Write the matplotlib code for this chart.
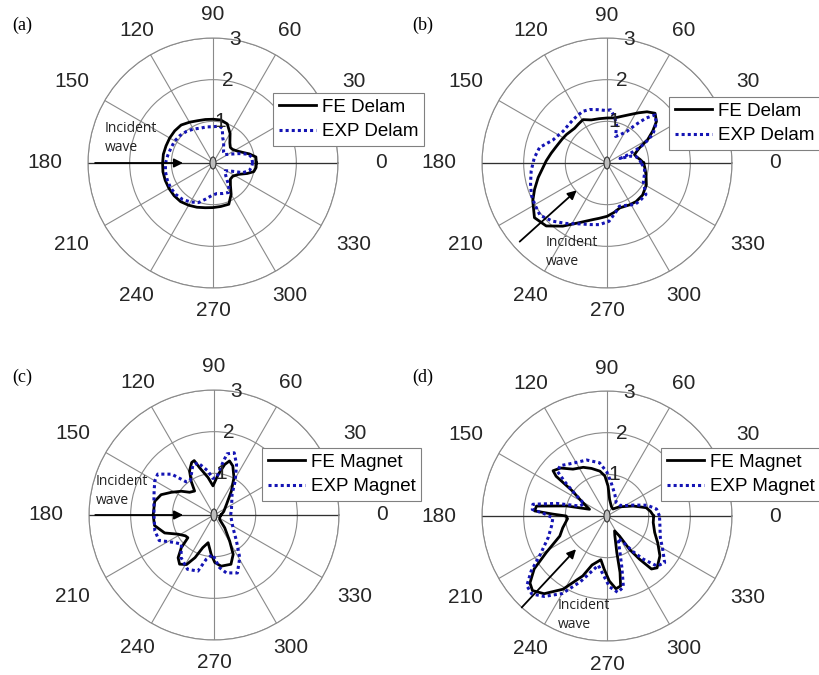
import numpy as np
import matplotlib
matplotlib.use('Agg')
import matplotlib.pyplot as plt
from matplotlib.patches import Ellipse

plt.rcParams['font.family'] = ['Liberation Sans', 'DejaVu Sans']

# ---- data (angle in deg, amplitude) ----
# (a) delamination, incident from 180
th_a_fe = [0, 8, 14, 20, 27, 35, 42, 50, 60, 70, 80, 90, 100, 110, 120, 130, 140, 150, 160,
           170, 180, 190, 200, 210, 220, 230, 240, 250, 260, 270, 280, 291, 300, 308, 317,
           326, 336, 343, 348, 354]
r_a_fe = [1.04, 1.04, 0.9, 0.75, 0.64, 0.57, 0.56, 0.63, 0.82, 1.0, 1.05, 1.05, 1.06, 1.08,
          1.13, 1.19, 1.2, 1.2, 1.2, 1.21, 1.21, 1.22, 1.22, 1.22, 1.22, 1.21, 1.17, 1.13,
          1.09, 1.07, 1.06, 1.06, 0.87, 0.68, 0.57, 0.57, 0.67, 0.86, 1.0, 1.04]
th_a_exp = [0, 8, 14, 20, 28, 36, 45, 55, 62, 69, 75, 80, 90, 100, 110, 120, 130, 140, 150,
            160, 170, 180, 190, 200, 210, 220, 230, 240, 250, 258, 268, 277, 288, 298, 305,
            312, 320, 328, 336, 342, 348, 354]
r_a_exp = [0.95, 0.94, 0.88, 0.66, 0.45, 0.34, 0.36, 0.44, 0.55, 0.65, 0.86, 0.9, 0.87, 0.88,
           0.89, 0.94, 0.99, 1.03, 1.06, 1.07, 1.1, 1.14, 1.16, 1.17, 1.18, 1.17, 1.14, 1.08,
           1.01, 0.89, 0.78, 0.74, 0.77, 0.8, 0.66, 0.48, 0.38, 0.35, 0.48, 0.75, 0.89, 0.93]

# (b) delamination, incident from 222
th_b_fe = [0, 6, 12, 17, 22, 25, 30, 35, 40, 46, 52, 58, 65, 72, 80, 90, 100, 110, 119, 126,
           133, 145, 152, 162, 170, 178, 192, 200, 207, 217, 226, 235, 245, 256, 262, 270,
           278, 286, 298, 307, 318, 331, 343, 352]
r_b_fe = [0.88, 0.8, 0.72, 0.69, 0.78, 0.86, 1.13, 1.34, 1.55, 1.66, 1.56, 1.42, 1.28, 1.18,
          1.1, 1.08, 1.08, 1.1, 1.19, 1.16, 1.14, 1.19, 1.22, 1.28, 1.36, 1.46, 1.69, 1.85,
          2.0, 2.18, 2.1, 1.85, 1.58, 1.4, 1.34, 1.28, 1.2, 1.12, 1.14, 1.16, 1.15, 1.08,
          0.98, 0.92]
th_b_exp = [0, 5, 12, 16, 19, 21, 24, 27, 32, 39, 45, 49, 53, 58, 65, 72, 76, 81, 86, 91, 100,
            108, 115, 122, 128, 136, 144, 152, 157, 167, 176, 186, 195, 203, 210, 218, 227,
            236, 246, 255, 263, 272, 280, 286, 295, 304, 312, 321, 333, 343, 352]
r_b_exp = [0.82, 0.79, 0.72, 0.6, 0.33, 0.5, 0.75, 1.0, 1.3, 1.52, 1.63, 1.43, 1.16, 0.89,
           0.75, 0.67, 0.95, 1.13, 1.28, 1.26, 1.3, 1.35, 1.37, 1.34, 1.32, 1.3, 1.3, 1.36,
           1.41, 1.66, 1.75, 1.83, 1.9, 1.97, 2.0, 2.04, 1.91, 1.75, 1.6, 1.53, 1.49, 1.4,
           1.2, 1.08, 1.12, 1.2, 1.2, 1.2, 0.98, 0.94, 0.91]

# (c) magnet, incident from 180
th_c_fe = [0, 20, 40, 54, 62, 69, 74, 78, 84, 92, 99, 107, 110, 113, 119, 124, 129, 137, 144,
           152, 159, 167, 180, 190, 200, 208, 216, 221, 225, 230, 235, 241, 246, 251, 258,
           266, 271, 278, 289, 296, 301, 310, 322, 340]
r_c_fe = [0.17, 0.25, 0.39, 0.71, 1.02, 1.26, 1.35, 1.24, 0.98, 0.7, 0.91, 1.19, 1.39, 1.37,
          1.21, 0.98, 0.74, 0.8, 0.97, 1.16, 1.36, 1.46, 1.46, 1.45, 1.26, 0.98, 0.85, 0.83,
          1.11, 1.34, 1.44, 1.36, 1.12, 0.83, 0.68, 0.95, 1.14, 1.24, 1.25, 1.05, 0.73,
          0.4, 0.17, 0.15]
th_c_exp = [0, 18, 35, 49, 58, 66, 72, 78, 81, 86, 92, 98, 107, 113, 119, 125, 130, 136, 144,
            150, 158, 167, 180, 195, 205, 215, 222, 232, 244, 254, 260, 268, 276, 282, 292,
            301, 311, 326, 346]
r_c_exp = [0.4, 0.44, 0.52, 0.66, 0.96, 1.33, 1.57, 1.5, 1.23, 0.9, 0.88, 1.07, 1.31, 1.3,
           1.12, 1.0, 1.04, 1.41, 1.67, 1.64, 1.55, 1.48, 1.44, 1.47, 1.45, 1.15, 1.05,
           1.29, 1.45, 1.4, 1.08, 0.95, 1.27, 1.42, 1.5, 1.2, 0.82, 0.55, 0.43]

# (d) magnet, incident from 227
th_d_fe = [0, 6, 12, 21, 30, 36, 50, 65, 81, 88, 93, 99, 108, 116, 126, 134, 140, 142, 144,
           150, 159, 166, 172, 176, 178, 180, 184, 195, 203, 211, 216, 221, 225, 231, 239,
           248, 253, 262, 267, 272, 277, 281, 283, 285, 292, 297, 302, 304, 307, 310, 314,
           323, 332, 341, 352]
r_d_fe = [1.12, 1.05, 0.96, 0.67, 0.45, 0.38, 0.22, 0.25, 0.4, 0.72, 0.96, 1.09, 1.2, 1.3,
          1.39, 1.6, 1.69, 1.55, 1.04, 0.7, 0.45, 1.0, 1.71, 1.74, 1.3, 0.98, 0.95, 1.1,
          1.23, 1.7, 2.16, 2.45, 2.53, 2.4, 2.05, 1.55, 1.23, 1.06, 1.28, 1.56, 1.76, 1.71,
          1.39, 0.91, 0.5, 0.4, 0.57, 0.97, 1.3, 1.66, 1.73, 1.59, 1.38, 1.21, 1.12]
th_d_exp = [0, 8, 15, 22, 30, 40, 55, 70, 83, 90, 98, 110, 122, 133, 138, 141, 146, 152, 160,
            166, 171, 175, 178, 182, 190, 200, 210, 216, 221, 226, 232, 240, 248, 254, 260,
            266, 272, 278, 283, 286, 290, 296, 302, 306, 310, 315, 321, 329, 338, 348]
r_d_exp = [1.26, 1.2, 1.0, 0.7, 0.5, 0.4, 0.39, 0.55, 0.81, 1.05, 1.29, 1.43, 1.5, 1.65, 1.6,
           1.3, 0.9, 0.62, 0.7, 1.25, 1.8, 1.8, 1.5, 1.3, 1.35, 1.5, 1.85, 2.25, 2.55, 2.6,
           2.45, 2.15, 1.7, 1.4, 1.2, 1.4, 1.7, 1.85, 1.75, 1.3, 0.9, 0.6, 0.75, 1.05, 1.35,
           1.7, 1.78, 1.56, 1.38, 1.3]

names_fe = ['FE Delam', 'FE Delam', 'FE Magnet', 'FE Magnet']
names_exp = ['EXP Delam', 'EXP Delam', 'EXP Magnet', 'EXP Magnet']
panel_tags = ['(a)', '(b)', '(c)', '(d)']
inc_angle = [180, 222, 180, 227]
inc_r = [(2.83, 0.72), (2.82, 0.98), (2.85, 0.74), (3.0, 1.09)]
theta_ticks = list(range(0, 360, 30))
r_ticks = [1, 2, 3]

series = [(th_a_fe, r_a_fe, th_a_exp, r_a_exp),
          (th_b_fe, r_b_fe, th_b_exp, r_b_exp),
          (th_c_fe, r_c_fe, th_c_exp, r_c_exp),
          (th_d_fe, r_d_fe, th_d_exp, r_d_exp)]

W, H = 820, 675
fig = plt.figure(figsize=(8.2, 6.75), dpi=100)

# layout in pixels (centre x, centre y) of each polar plot, radius 125 px
centres = [(213, 163), (607, 163), (214, 515), (607, 516)]
leg_pos = [(273, 93), (669, 97), (262, 448), (661, 448)]
tag_pos = [(12, 25), (412, 25), (12, 377), (412, 377)]
txt_pos = [(0.068, 0.60), (0.256, 0.144), (0.028, 0.596), (0.304, 0.103)]
R = 125

def closed(th, r):
    t = np.deg2rad(np.r_[th, th[0]])
    return t, np.r_[r, r[0]]

for k in range(4):
    cx, cy = centres[k]
    ax = fig.add_axes([(cx - R) / W, (H - cy - R) / H, 2 * R / W, 2 * R / H],
                      projection='polar')
    ax.set_ylim(0, 3)
    ax.set_yticks(r_ticks)
    ax.set_yticklabels([])
    ax.set_thetagrids(theta_ticks, [''] * len(theta_ticks))
    ax.grid(True, color='#8a8a8a', lw=0.8)
    ax.spines['polar'].set_color('#8a8a8a')
    ax.spines['polar'].set_linewidth(0.8)
    # darker horizontal axis line
    ax.plot([0, 0], [0, 3], color='#303030', lw=0.9, zorder=2)
    ax.plot([np.pi, np.pi], [0, 3], color='#303030', lw=0.9, zorder=2)

    # angle labels, matlab style
    for a in theta_ticks:
        d = 148 + 20 * np.cos(np.deg2rad(a)) ** 2
        ax.text(np.deg2rad(a), 3 * d / R, str(a), ha='center', va='center',
                fontsize=15, color='#262626', clip_on=False)
    # radius labels at 80 deg
    for rv in r_ticks:
        ax.text(np.deg2rad(80), rv, str(rv), ha='center', va='center',
                fontsize=15, color='#262626', zorder=5)

    th1, r1, th2, r2 = series[k]
    t, r = closed(th1, r1)
    ax.plot(t, r, color='black', lw=2.0, label=names_fe[k], zorder=3)
    t, r = closed(th2, r2)
    ax.plot(t, r, color='#1414b4', lw=2.2, ls=(0, (1, 1)), label=names_exp[k], zorder=4)

    ax.add_patch(Ellipse((0.5, 0.5), 0.024, 0.048, transform=ax.transAxes,
                         fc='#bdbdbd', ec='#333333', lw=0.8, zorder=6))

    a = np.deg2rad(inc_angle[k])
    ax.annotate('', xy=(a, inc_r[k][1]), xytext=(a, inc_r[k][0]),
                arrowprops=dict(arrowstyle='-|>', color='black', lw=1.3,
                                mutation_scale=13, shrinkA=0, shrinkB=0),
                annotation_clip=False, zorder=7)
    ax.text(txt_pos[k][0], txt_pos[k][1], 'Incident\nwave', transform=ax.transAxes,
            family='Open Sans', fontsize=10, ha='left', va='center',
            linespacing=1.35, color='#222222', zorder=7)

    lx, ly = leg_pos[k]
    leg = ax.legend(loc='upper left', bbox_to_anchor=(lx / W, 1 - ly / H),
                    bbox_transform=fig.transFigure, fontsize=13.5, fancybox=False,
                    framealpha=1, edgecolor='#808080', borderaxespad=0,
                    handlelength=2.0, borderpad=0.3, labelspacing=0.4,
                    handletextpad=0.3)
    leg.get_frame().set_linewidth(0.8)
    leg.set_zorder(10)

    tx, ty = tag_pos[k]
    fig.text(tx / W, 1 - ty / H, panel_tags[k], family='Liberation Serif',
             fontsize=13, va='center', ha='left')

fig.savefig('out.png', dpi=100)
